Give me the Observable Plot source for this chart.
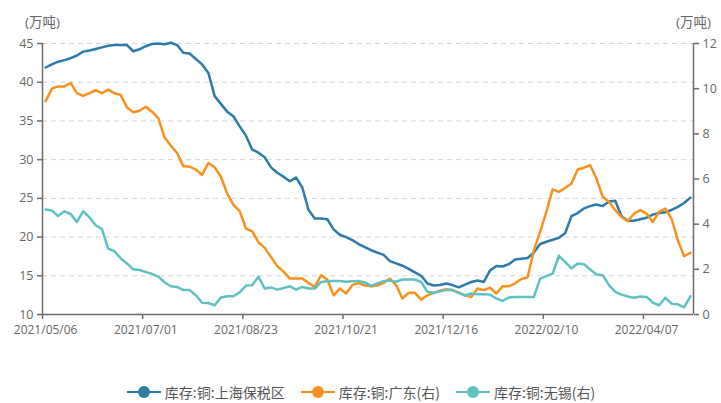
<!DOCTYPE html>
<html>
<head>
<meta charset="utf-8">
<script src="https://cdn.jsdelivr.net/npm/d3@7"></script>
<script src="https://cdn.jsdelivr.net/npm/@observablehq/plot@0.6"></script>
<style>
  html, body { margin: 0; padding: 0; background: #fff; }
  body { width: 721px; height: 403px; overflow: hidden; position: relative;
         font-family: "Open Sans", "Noto Sans CJK SC", sans-serif; }
  #legend { position: absolute; left: 0; top: 382px; width: 721px; height: 20px;
            display: flex; justify-content: center; align-items: center; gap: 15px;
            font-family: "Noto Sans CJK SC", sans-serif; font-size: 14px; color: #555; }
  .item { display: flex; align-items: center; gap: 3px; white-space: nowrap; }
</style>
</head>
<body>
<div id="chart"></div>
<div id="legend"></div>
<script>
// ---- data (weekly-ish observations, index = category position) ----
const tickIdx = [0, 16, 32, 48, 64, 80, 96];
const tickLabels = ["2021/05/06", "2021/07/01", "2021/08/23", "2021/10/21", "2021/12/16", "2022/02/10", "2022/04/07"];
const leftTicks = [10, 15, 20, 25, 30, 35, 40, 45];
const rightTicks = [0, 2, 4, 6, 8, 10, 12];
const seriesNames = ["库存:铜:上海保税区", "库存:铜:广东(右)", "库存:铜:无锡(右)"];
const seriesColors = ["#2c7bab", "#f8911e", "#5dc2c1"];

// 库存:铜:上海保税区 (left axis, 万吨)
const shanghai = [
  41.9, 42.3, 42.65, 42.85, 43.1, 43.45, 43.95, 44.1, 44.3, 44.5,
  44.7, 44.8, 44.8, 44.8, 44.0, 44.25, 44.65, 44.95, 45.0, 44.9,
  45.1, 44.8, 43.8, 43.7, 43.0, 42.3, 41.2, 38.2, 37.2, 36.2,
  35.6, 34.3, 33.1, 31.3, 30.9, 30.3, 29.0, 28.3, 27.8, 27.2,
  27.7, 26.4, 23.5, 22.4, 22.4, 22.3, 21.0, 20.3, 20.0, 19.6,
  19.1, 18.7, 18.3, 18.0, 17.7, 16.9, 16.6, 16.3, 15.9, 15.45,
  15.0, 14.0, 13.75, 13.8, 14.0, 13.8, 13.5, 13.85, 14.2, 14.4,
  14.2, 15.7, 16.25, 16.2, 16.5, 17.1, 17.2, 17.3, 18.0, 19.1,
  19.4, 19.65, 19.9, 20.5, 22.7, 23.1, 23.7, 24.0, 24.2, 24.0,
  24.6, 24.7, 22.7, 22.1, 22.1, 22.3, 22.5, 22.9, 23.1, 23.2,
  23.5, 23.9, 24.4, 25.1
];
// 库存:铜:广东 (right axis, 万吨)
const guangdong = [
  9.45, 10.0, 10.1, 10.1, 10.25, 9.8, 9.68, 9.8, 9.93, 9.8,
  9.96, 9.8, 9.72, 9.17, 8.95, 9.02, 9.2, 8.98, 8.7, 7.84,
  7.48, 7.15, 6.56, 6.55, 6.42, 6.18, 6.71, 6.52, 6.1, 5.35,
  4.85, 4.58, 3.8, 3.68, 3.2, 2.95, 2.55, 2.14, 1.9, 1.59,
  1.59, 1.59, 1.4, 1.22, 1.74, 1.55, 0.85, 1.15, 0.93, 1.3,
  1.4, 1.28, 1.25, 1.28, 1.4, 1.59, 1.3, 0.71, 0.96, 0.96,
  0.66, 0.85, 0.96, 1.05, 1.12, 1.08, 0.98, 0.85, 0.78, 1.15,
  1.08, 1.19, 0.93, 1.25, 1.25, 1.38, 1.57, 1.65, 2.85, 3.66,
  4.55, 5.54, 5.43, 5.6, 5.8, 6.42, 6.5, 6.61, 6.02, 5.21,
  4.99, 4.62, 4.32, 4.13, 4.47, 4.62, 4.47, 4.1, 4.55, 4.69,
  4.24, 3.29, 2.58, 2.73
];
// 库存:铜:无锡 (right axis, 万吨)
const wuxi = [
  4.65, 4.6, 4.36, 4.57, 4.45, 4.1, 4.57, 4.3, 3.95, 3.78,
  2.92, 2.8, 2.48, 2.26, 2.0, 1.97, 1.88, 1.8, 1.68, 1.43,
  1.25, 1.22, 1.08, 1.08, 0.85, 0.52, 0.51, 0.41, 0.75, 0.81,
  0.81, 0.98, 1.28, 1.3, 1.67, 1.15, 1.2, 1.1, 1.17, 1.25,
  1.1, 1.22, 1.15, 1.15, 1.44, 1.47, 1.48, 1.48, 1.45, 1.47,
  1.48, 1.42, 1.27, 1.38, 1.48, 1.5, 1.45, 1.55, 1.55, 1.55,
  1.44, 1.0, 0.96, 1.03, 1.08, 1.08, 0.95, 0.84, 0.93, 0.9,
  0.9, 0.88, 0.71, 0.6, 0.75, 0.78, 0.78, 0.78, 0.78, 1.59,
  1.7, 1.81, 2.6, 2.33, 2.04, 2.26, 2.23, 1.99, 1.77, 1.74,
  1.3, 1.0, 0.88, 0.8, 0.74, 0.8, 0.78, 0.53, 0.41, 0.74,
  0.48, 0.45, 0.32, 0.8
];

// ---- scales helpers ----
const leftMin = 10, leftMax = 45, rightMin = 0, rightMax = 12;
const toLeft = v => leftMin + (v - rightMin) * (leftMax - leftMin) / (rightMax - rightMin);
const fromLeft = v => rightMin + (v - leftMin) * (rightMax - rightMin) / (leftMax - leftMin);
const n = shanghai.length;
const axisColor = "#6b6b6b";
const textColor = "#666";

const chart = Plot.plot({
  width: 721,
  height: 345,
  marginTop: 43,
  marginBottom: 31,
  marginLeft: 42,
  marginRight: 28,
  style: { fontFamily: "'Open Sans', 'Noto Sans CJK SC', sans-serif", fontSize: "12.5px", color: textColor, background: "#fff" },
  x: { type: "linear", domain: [-0.5, n - 0.5] },
  y: { domain: [leftMin, leftMax] },
  marks: [
    // dashed grid
    Plot.ruleY(leftTicks.filter(d => d > leftMin), { stroke: "#d4d4d4", strokeDasharray: "5,4", strokeWidth: 1 }),
    // axis lines
    Plot.ruleY([leftMin], { stroke: axisColor, strokeWidth: 1.5 }),
    Plot.ruleX([-0.5], { stroke: axisColor, strokeWidth: 1.5 }),
    Plot.ruleX([n - 0.5], { stroke: axisColor, strokeWidth: 1.5 }),
    // left axis
    Plot.axisY(leftTicks, { anchor: "left", tickSize: 5, tickPadding: 4, stroke: axisColor, strokeWidth: 1.5, fill: textColor, label: null, fontSize: 12.5 }),
    // right axis (mapped onto the left scale)
    Plot.axisY(rightTicks.map(toLeft), { anchor: "right", tickSize: 5, tickPadding: 4, stroke: axisColor, strokeWidth: 1.5, fill: textColor, label: null, fontSize: 12.5,
      tickFormat: d => String(Math.round(fromLeft(d))) }),
    // x tick marks at category boundaries
    Plot.axisX(tickIdx.map(d => d - 0.5), { anchor: "bottom", tickSize: 5, stroke: axisColor, strokeWidth: 1.5, tickFormat: () => "", label: null }),
    // x labels at category centres
    Plot.axisX(tickIdx, { anchor: "bottom", tickSize: 0, tickPadding: 11, fill: textColor, label: null, fontSize: 12,
      tickFormat: d => tickLabels[tickIdx.indexOf(d)] }),
    // unit labels
    Plot.text(["(万吨)"], { frameAnchor: "top-left", dy: -26, textAnchor: "middle", fill: textColor, fontSize: 13.5 }),
    Plot.text(["(万吨)"], { frameAnchor: "top-right", dy: -26, textAnchor: "middle", fill: textColor, fontSize: 13.5 }),
    // series
    Plot.line(shanghai, { x: (d, i) => i, y: d => d, stroke: seriesColors[0], strokeWidth: 2.5, strokeLinejoin: "round" }),
    Plot.line(guangdong, { x: (d, i) => i, y: d => toLeft(d), stroke: seriesColors[1], strokeWidth: 2.5, strokeLinejoin: "round" }),
    Plot.line(wuxi, { x: (d, i) => i, y: d => toLeft(d), stroke: seriesColors[2], strokeWidth: 2.5, strokeLinejoin: "round" })
  ]
});
document.getElementById("chart").appendChild(chart);

// legend
const legend = document.getElementById("legend");
seriesNames.forEach((name, k) => {
  const item = document.createElement("div");
  item.className = "item";
  item.innerHTML =
    `<svg width="36" height="14" viewBox="0 0 36 14"><line x1="1" y1="7" x2="35" y2="7" stroke="${seriesColors[k]}" stroke-width="2"/>` +
    `<circle cx="18" cy="7" r="6" fill="${seriesColors[k]}"/></svg><span>${name}</span>`;
  legend.appendChild(item);
});
</script>
</body>
</html>
